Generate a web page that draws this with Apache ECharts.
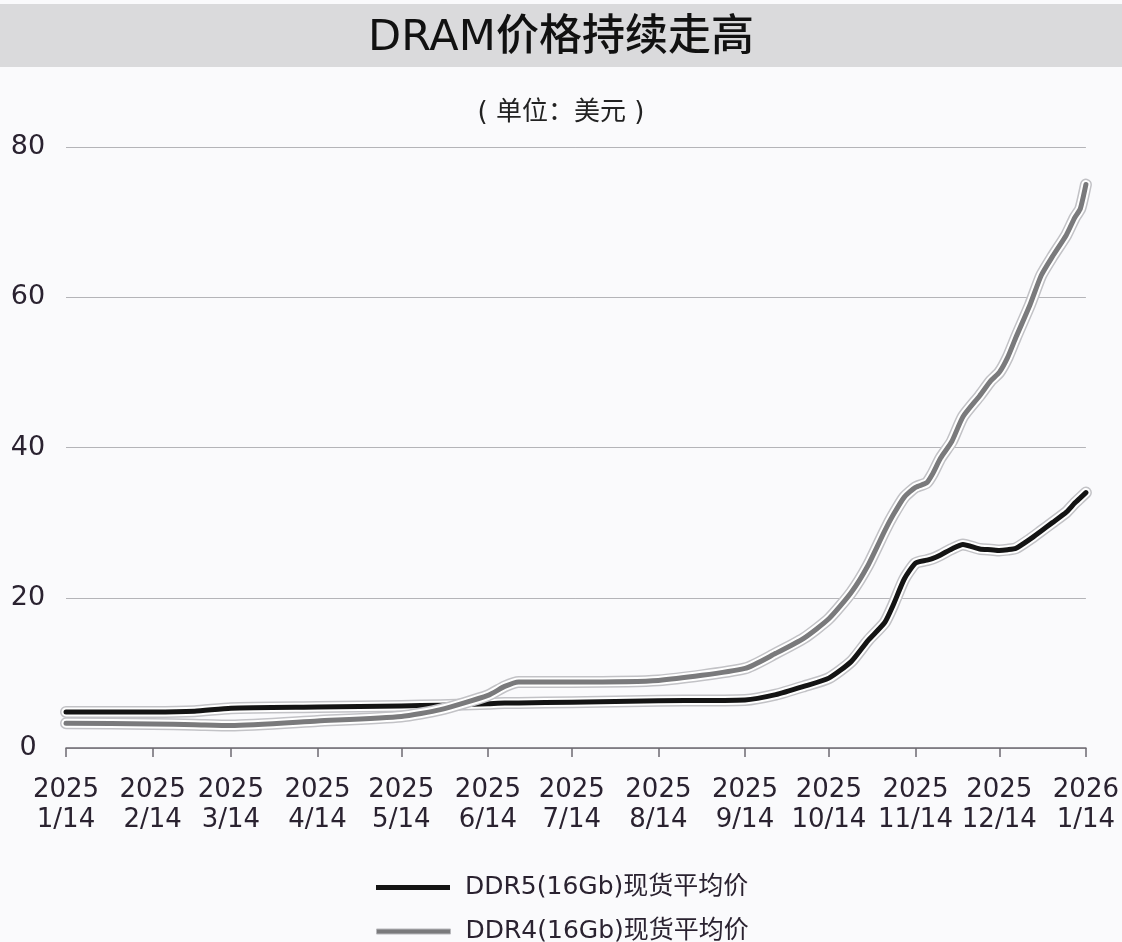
<!DOCTYPE html>
<html>

<head>
    <meta charset="utf-8" />
    <script src="https://cdn.jsdelivr.net/npm/echarts@6.0.0/dist/echarts.min.js"></script>
    <title>DRAM价格持续走高</title>
    <style>
        html, body { margin: 0; padding: 0; background: #fafafc; }
        #main-chart { width: 1122px; height: 942px; }
    </style>
</head>

<body>
    <div id="main-chart"></div>
    <script type="text/javascript">
        // 采样日期（两条线共用）
        var dates = [
            '2025-01-14', '2025-02-14', '2025-03-01', '2025-03-14', '2025-04-14',
            '2025-05-14', '2025-05-28', '2025-06-14', '2025-06-20', '2025-06-25',
            '2025-07-14', '2025-08-14', '2025-09-14', '2025-09-25', '2025-10-05',
            '2025-10-14', '2025-10-22', '2025-10-28', '2025-11-03', '2025-11-06',
            '2025-11-10', '2025-11-14', '2025-11-18', '2025-11-20', '2025-11-23',
            '2025-11-27', '2025-12-01', '2025-12-07', '2025-12-11', '2025-12-14',
            '2025-12-17', '2025-12-20', '2025-12-25', '2025-12-29', '2026-01-02',
            '2026-01-07', '2026-01-10', '2026-01-12', '2026-01-14'
        ];
        var ddr5 = [
            4.8, 4.8, 4.9, 5.3, 5.45,
            5.6, 5.7, 5.9, 6.0, 6.0,
            6.1, 6.3, 6.4, 7.1, 8.2,
            9.3, 11.5, 14.3, 16.7, 19.0,
            22.5, 24.6, 25.0, 25.2, 25.7,
            26.5, 27.1, 26.5, 26.4, 26.3,
            26.4, 26.6, 27.8, 28.9, 30.0,
            31.4, 32.6, 33.3, 34.0
        ];
        var ddr4 = [
            3.3, 3.2, 3.1, 3.0, 3.6,
            4.2, 5.1, 7.0, 8.2, 8.8,
            8.8, 9.0, 10.6, 12.6, 14.6,
            17.2, 20.7, 24.3, 28.9, 31.0,
            33.4, 34.7, 35.3, 36.4, 38.6,
            40.8, 44.1, 46.9, 48.9, 50.0,
            52.0, 54.7, 59.0, 62.9, 65.4,
            68.3, 70.6, 71.8, 75.0
        ];
        var tickDates = [
            '2025-01-14', '2025-02-14', '2025-03-14', '2025-04-14', '2025-05-14',
            '2025-06-14', '2025-07-14', '2025-08-14', '2025-09-14', '2025-10-14',
            '2025-11-14', '2025-12-14', '2026-01-14'
        ];
        var yTicks = [0, 20, 40, 60, 80];
        var seriesNames = ['DDR5(16Gb)现货平均价', 'DDR4(16Gb)现货平均价'];
        var seriesColors = ['#141414', '#7a7a7c'];

        var FONT = 'DejaVu Sans, Noto Sans CJK SC, sans-serif';

        // 日期换算成距起始日的天数，x 轴用天数
        function dayOf(s) {
            var p = s.split('-');
            var t0 = tickDates[0].split('-');
            return Math.round((Date.UTC(+p[0], +p[1] - 1, +p[2]) - Date.UTC(+t0[0], +t0[1] - 1, +t0[2])) / 86400000);
        }
        function pairs(values) {
            return dates.map((d, i) => [dayOf(d), values[i]]);
        }
        // 一条线画三层：灰色描边、白色光晕、实线
        function haloSeries(name, values, color) {
            var data = pairs(values);
            var base = {
                type: 'line',
                symbol: 'none',
                smooth: 0.2,
                silent: true,
                animation: false,
                data: data
            };
            return [
                Object.assign({}, base, { name: name + '_o', itemStyle: { color: '#c2c2c6' }, lineStyle: { color: '#c2c2c6', width: 12, cap: 'round', join: 'round' } }),
                Object.assign({}, base, { name: name + '_w', itemStyle: { color: '#ffffff' }, lineStyle: { color: '#ffffff', width: 9, cap: 'round', join: 'round' } }),
                Object.assign({}, base, { name: name, itemStyle: { color: color }, lineStyle: { color: color, width: 5, cap: 'round', join: 'round' } })
            ];
        }
        function legendFor(i, top, border) {
            return {
                left: 376,
                top: top,
                padding: 0,
                itemWidth: 74,
                itemHeight: 5,
                selectedMode: false,
                data: [{
                    name: seriesNames[i],
                    icon: 'rect',
                    itemStyle: border ? { color: seriesColors[i], borderColor: '#b8b8bc', borderWidth: 1 } : { color: seriesColors[i] }
                }],
                textStyle: { fontSize: 25, color: '#2a2230', fontFamily: FONT, padding: [0, 0, 0, 10] }
            };
        }

        var tickDays = tickDates.map(dayOf);
        var tickLabelMap = {};
        tickDates.forEach(function (s, i) {
            var p = s.split('-');
            tickLabelMap[tickDays[i]] = p[0] + '\n' + (+p[1]) + '/' + (+p[2]);
        });

        var chart = echarts.init(document.getElementById('main-chart'));
        var option = {
            backgroundColor: '#fafafc',
            animation: false,
            graphic: [{
                type: 'rect',
                z: 0,
                shape: { x: 0, y: 4, width: 1122, height: 63 },
                style: { fill: '#dadadc' }
            }],
            title: [{
                text: 'DRAM价格持续走高',
                left: 'center',
                top: 12,
                z: 10,
                textStyle: { fontSize: 43, fontWeight: 500, color: '#111111', fontFamily: FONT }
            }, {
                text: '( 单位：美元 )',
                left: 'center',
                top: 95,
                textStyle: { fontSize: 26, fontWeight: 'normal', color: '#222222', fontFamily: FONT }
            }],
            legend: [legendFor(0, 875, false), legendFor(1, 919, true)],
            grid: {
                left: 66,
                right: 35,
                top: 147,
                bottom: 194,
                containLabel: false
            },
            xAxis: {
                type: 'value',
                min: tickDays[0],
                max: tickDays[tickDays.length - 1],
                axisLine: { lineStyle: { color: '#6e6a72', width: 1.5 } },
                axisTick: { show: true, length: 9, customValues: tickDays, lineStyle: { color: '#6e6a72', width: 1.5 } },
                splitLine: { show: false },
                axisLabel: {
                    customValues: tickDays,
                    margin: 27,
                    fontSize: 26,
                    lineHeight: 30,
                    color: '#2a2230',
                    fontFamily: FONT,
                    showMinLabel: true,
                    showMaxLabel: true,
                    formatter: function (value) {
                        return tickLabelMap[value] || '';
                    }
                }
            },
            yAxis: {
                type: 'value',
                min: yTicks[0],
                max: yTicks[yTicks.length - 1],
                interval: 20,
                axisLine: { show: false },
                axisTick: { show: false },
                splitLine: { lineStyle: { color: '#b4b4b8', width: 1 } },
                axisLabel: {
                    align: 'center',
                    margin: 38,
                    fontSize: 27,
                    color: '#2a2230',
                    fontFamily: FONT
                }
            },
            series: [].concat(
                haloSeries(seriesNames[0], ddr5, seriesColors[0]),
                haloSeries(seriesNames[1], ddr4, seriesColors[1])
            )
        };
        chart.setOption(option);
    </script>
</body>

</html>
